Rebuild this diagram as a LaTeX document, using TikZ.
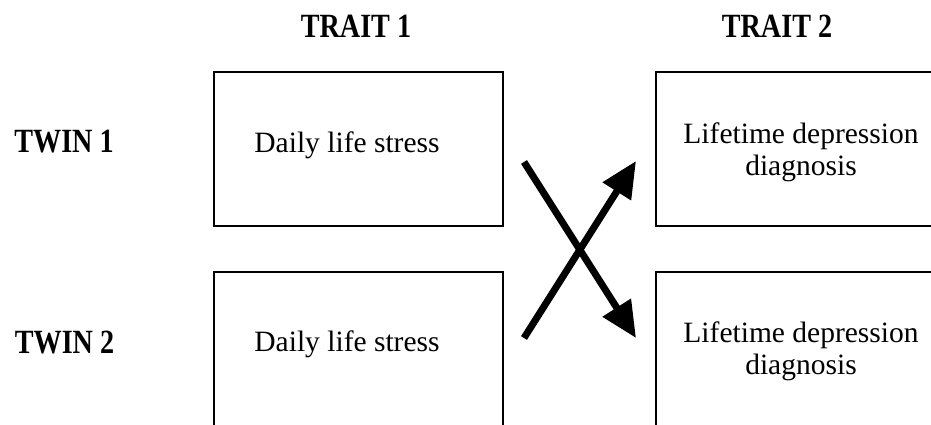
\documentclass[tikz,border=0pt]{standalone}
\usepackage{fontspec}
\setmainfont{Liberation Serif}
\usetikzlibrary{arrows.meta}
\tikzset{
  box/.style={draw=black, line width=1.6pt, minimum width=289pt, minimum height=154pt, inner sep=0pt},
  body/.style={font=\fontsize{29.5}{32.5}\selectfont, inner sep=0pt, align=center},
  head/.style={font=\fontsize{32}{34}\selectfont\bfseries, inner sep=0pt, xscale=0.88, yscale=1.06, anchor=base},
  link/.style={line width=7pt, -{Triangle[length=36pt,width=32pt]}}
}
\begin{document}
\begin{tikzpicture}[x=1pt,y=-1pt]
\useasboundingbox (0,0) rectangle (931,425);
\clip (0,0) rectangle (931,425);
\fill[white] (0,0) rectangle (931,425);
% headers
\node[head] (t1) at (356,38) {TRAIT 1};
\node[head] (t2) at (777,38) {TRAIT 2};
\node[head] (w1) at (64,153) {TWIN 1};
\node[head] (w2) at (64.5,353) {TWIN 2};
% boxes
\node[box] (b11) at (358.5,149) {};
\node[box] (b12) at (800.5,149) {};
\node[box] (b21) at (358.5,349) {};
\node[box] (b22) at (800.5,349) {};
% texts
\node[body, anchor=base] (s1) at (347,152) {Daily life stress};
\node[body, anchor=base] (s2) at (347,351) {Daily life stress};
\node[body] (d1) at (801,152.5) {Lifetime depression\\diagnosis};
\node[body] (d2) at (801,351.5) {Lifetime depression\\diagnosis};
% arrows
\coordinate (a1) at (524,162);
\coordinate (a2) at (636,338);
\coordinate (c1) at (524,338);
\coordinate (c2) at (636,161);
\draw[link] (a1) -- (a2);
\draw[link] (c1) -- (c2);
\end{tikzpicture}
\end{document}
